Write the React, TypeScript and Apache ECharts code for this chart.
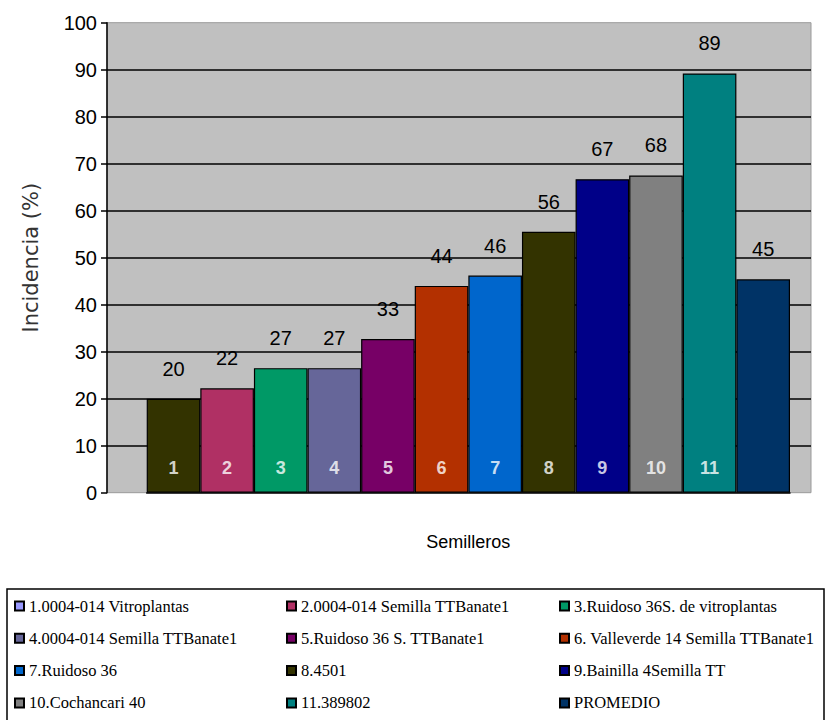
import React, { useEffect, useRef } from "react";
import * as echarts from "echarts";

const categories = ["1", "2", "3", "4", "5", "6", "7", "8", "9", "10", "11", "12"];
const values = [20, 22.2, 26.5, 26.5, 32.7, 44.0, 46.2, 55.5, 66.7, 67.5, 89.2, 45.4];
const innerLabels = ["1", "2", "3", "4", "5", "6", "7", "8", "9", "10", "11", ""];
const legendNames = [
  "1.0004-014 Vitroplantas",
  "2.0004-014 Semilla TTBanate1",
  "3.Ruidoso 36S. de vitroplantas",
  "4.0004-014 Semilla TTBanate1",
  "5.Ruidoso 36 S. TTBanate1",
  "6. Valleverde 14 Semilla TTBanate1",
  "7.Ruidoso 36",
  "8.4501",
  "9.Bainilla 4Semilla TT",
  "10.Cochancari 40",
  "11.389802",
  "PROMEDIO",
];
const barColors = [
  "#333300", "#b03064", "#009966", "#666699", "#770066", "#b33000",
  "#0066cc", "#333300", "#000088", "#808080", "#008080", "#003366",
];
const legendColors = [
  "#9999ff", "#b03064", "#009966", "#666699", "#770066", "#b33000",
  "#0066cc", "#333300", "#000088", "#808080", "#008080", "#003366",
];

export default function App() {
  const ref = useRef<HTMLDivElement>(null);
  useEffect(() => {
    if (!ref.current) return;
    const chart = echarts.init(ref.current, undefined, { renderer: "svg" });
    const top = 22.7;
    const bottom = 720 - 492.7;

    const barSeries = categories.map((c, i) => ({
      type: "bar",
      name: legendNames[i],
      xAxisIndex: 1,
      yAxisIndex: 1,
      stack: "all",
      barWidth: "100%",
      itemStyle: { color: legendColors[i], borderColor: "#000", borderWidth: 1.2 },
      label: {
        show: true,
        position: "top",
        distance: 20,
        fontFamily: "Liberation Sans",
        fontSize: 20,
        color: "#000",
        formatter: (p: any) => String(Math.round(p.value)),
      },
      data: values.map((v, j) =>
        j === i ? { value: v, itemStyle: { color: barColors[i] } } : null
      ),
    }));

    const legendBase = {
      orient: "vertical",
      top: 597,
      height: 120,
      itemWidth: 9,
      itemHeight: 9,
      itemGap: 14.3,
      icon: "rect",
      selectedMode: false,
      padding: 0,
      textStyle: {
        fontFamily: "Liberation Serif",
        fontSize: 16.5,
        color: "#000",
        lineHeight: 18,
      },
    };

    chart.setOption({
      animation: false,
      backgroundColor: "#fff",
      graphic: [
        {
          type: "rect",
          shape: { x: 7, y: 589, width: 817, height: 140 },
          style: { fill: "rgba(0,0,0,0)", stroke: "#000", lineWidth: 1.5 },
          z: -1,
        },
      ],
      legend: [
        { ...legendBase, left: 14, data: [0, 3, 6, 9].map((k) => legendNames[k]) },
        { ...legendBase, left: 286, data: [1, 4, 7, 10].map((k) => legendNames[k]) },
        { ...legendBase, left: 559, data: [2, 5, 8, 11].map((k) => legendNames[k]) },
      ],
      grid: [
        {
          left: 107,
          right: 16,
          top,
          bottom,
          show: true,
          backgroundColor: "#c0c0c0",
          borderColor: "#9a9a9a",
          borderWidth: 1,
        },
        { left: 146.7, right: 37, top, bottom },
      ],
      xAxis: [
        { type: "value", gridIndex: 0, min: 0, max: 1, show: false },
        {
          type: "category",
          gridIndex: 1,
          data: categories,
          axisLabel: { show: false },
          axisTick: { show: false },
          axisLine: { show: true, lineStyle: { color: "#000", width: 1.5 } },
          name: "Semilleros",
          nameLocation: "middle",
          nameGap: 40,
          nameTextStyle: { fontFamily: "Liberation Sans", fontSize: 18, color: "#000" },
        },
      ],
      yAxis: [
        {
          type: "value",
          gridIndex: 0,
          min: 0,
          max: 100,
          interval: 10,
          axisLine: { show: true, lineStyle: { color: "#000", width: 1.5 } },
          axisTick: { show: true, length: 6, lineStyle: { color: "#000", width: 1.5 } },
          axisLabel: {
            margin: 10,
            fontFamily: "Liberation Sans",
            fontSize: 20,
            color: "#000",
          },
          splitLine: {
            show: true,
            showMinLine: false,
            showMaxLine: false,
            lineStyle: { color: "#000", width: 1.5 },
          },
          name: "Incidencia (%)",
          nameLocation: "middle",
          nameGap: 66,
          nameTextStyle: { fontFamily: "DejaVu Sans", fontSize: 21, color: "#333" },
        },
        { type: "value", gridIndex: 1, min: 0, max: 100, show: false },
      ],
      series: [
        ...barSeries,
        {
          type: "scatter",
          name: "inner",
          xAxisIndex: 1,
          yAxisIndex: 1,
          symbolSize: 1,
          itemStyle: { color: "rgba(0,0,0,0)" },
          label: {
            show: true,
            position: "inside",
            fontFamily: "Liberation Sans",
            fontSize: 18,
            fontWeight: "bold",
            color: "#fff",
            formatter: (p: any) => innerLabels[p.dataIndex],
          },
          data: categories.map((c, i) => [c, 5.3]),
          z: 5,
        },
      ],
    });
    return () => chart.dispose();
  }, []);
  return (
    <div
      ref={ref}
      style={{ position: "fixed", left: 0, top: 0, width: 827, height: 720 }}
    />
  );
}
